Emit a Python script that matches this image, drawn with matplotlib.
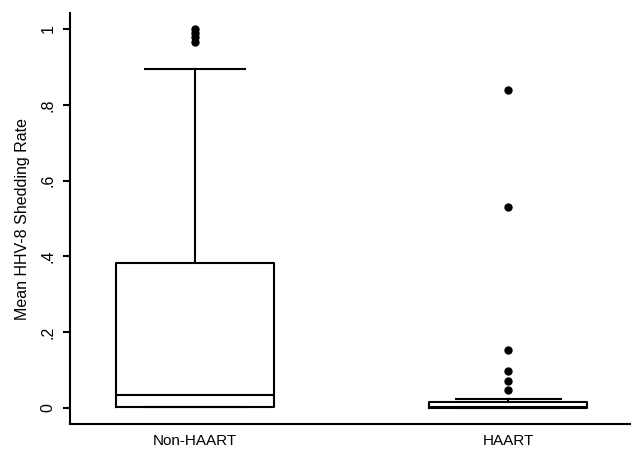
import matplotlib
matplotlib.use("Agg")
import matplotlib.pyplot as plt

plt.rcParams['font.family'] = ['Liberation Sans', 'DejaVu Sans']

# Box statistics
groups = ['Non-HAART', 'HAART']
q1 = [0.003, -0.001]
med = [0.034, 0.004]
q3 = [0.383, 0.017]
whishi = [0.894, 0.024]
fliers = [
    [1.0, 0.99, 0.978, 0.966],
    [0.839, 0.531, 0.153, 0.098, 0.072, 0.047],
]

ytick_vals = [0, 0.2, 0.4, 0.6, 0.8, 1.0]
ytick_labels = ['0', '.2', '.4', '.6', '.8', '1']

# lower whisker sits on the box bottom, so no lower cap shows
stats = []
for i, g in enumerate(groups):
    stats.append(dict(label=g, whislo=q1[i], q1=q1[i], med=med[i],
                      q3=q3[i], whishi=whishi[i], fliers=fliers[i]))

fig = plt.figure(figsize=(6.34, 4.51), dpi=100)
ax = fig.add_axes([0.110, 0.060, 0.884, 0.911])

lw = 1.5
ax.bxp(stats, positions=[1, 2], widths=0.505, showfliers=True,
       boxprops=dict(color='black', linewidth=lw),
       medianprops=dict(color='black', linewidth=lw),
       whiskerprops=dict(color='black', linewidth=lw),
       capprops=dict(color='black', linewidth=lw),
       capwidths=[0.32, 0.335],
       flierprops=dict(marker='o', markerfacecolor='black',
                       markeredgecolor='black', markersize=5))

ax.set_xlim(0.6, 2.39)
ax.set_ylim(-0.042, 1.042)
ax.set_yticks(ytick_vals)
ax.set_yticklabels(ytick_labels, rotation=90, va='center', fontsize=11.5)
ax.tick_params(axis='y', length=5, width=lw, pad=5)
ax.tick_params(axis='x', length=0, labelsize=11, pad=7)
ax.set_ylabel('Mean HHV-8 Shedding Rate', fontsize=11.5, labelpad=8)

for s in ['top', 'right']:
    ax.spines[s].set_visible(False)
for s in ['left', 'bottom']:
    ax.spines[s].set_linewidth(lw)

fig.savefig('out.png', dpi=100)
